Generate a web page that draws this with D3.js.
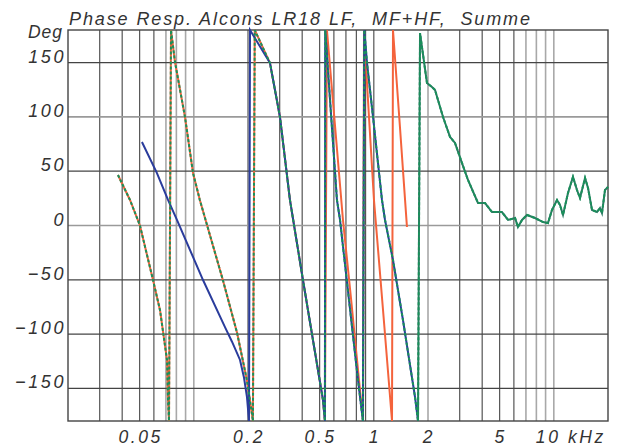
<!DOCTYPE html>
<html>
<head>
<meta charset="utf-8">
<style>
  body { margin: 0; background: #fff; }
  svg text { font-family: "Liberation Sans", Arial, sans-serif; font-style: italic; fill: #333; white-space: pre; }
</style>
</head>
<body>
<svg id="chart" width="621" height="446"></svg>
<script src="https://d3js.org/d3.v7.min.js"></script>
<script>
// axis ticks
const yTicks = [-150, -100, -50, 0, 50, 100, 150];
const yTicksLight = [0, 100];
const xTickValues = [0.05, 0.2, 0.5, 1, 2, 5, 10];
const xTickText = ["0.05", "0.2", "0.5", "1", "2", "5", "10 kHz"];
const gridDark = [0.03, 0.04, 0.05, 0.06, 0.2, 0.3, 0.4, 0.5, 0.6, 0.7, 0.8, 0.9, 1, 3, 4, 5, 6];
const gridLight = [0.07, 0.08, 0.09, 0.1, 2, 7, 8, 9, 10];

// LF (blue), [kHz, deg]
const lfPoints = [
  [0.0515, 76.9], [0.0624, 48.3], [0.0719, 23.5], [0.0807, 5], [0.1125, -50.2],
  [0.149, -93.5], [0.163, -107], [0.1806, -123.8], [0.19, -140], [0.1974, -158],
  [0.2026, -180], [0.2052, 180], [0.265, 149.6], [0.301, 99.9], [0.342, 23.5],
  [0.404, -50.2], [0.522, -160.7], [0.535, -180], [0.537, 180], [0.624, 23.5],
  [0.649, 5.1], [0.728, -68.6], [0.817, -142.3], [0.87, -180], [0.885, 180],
  [0.917, 149.6], [0.99, 99.9], [1.11, 23.5], [1.154, 5.1], [1.278, -31.8],
  [1.452, -87], [1.694, -157.9], [1.76, -180]
];

// MF+HF (orange)
const mfhfPoints = [
  [0.0379, 46.5], [0.0442, 23.5], [0.0502, 0], [0.0593, -50], [0.0649, -78],
  [0.071, -124], [0.0719, -161], [0.0728, -180], [0.0747, 180], [0.0786, 150.5],
  [0.0893, 100], [0.099, 48.3], [0.108, 23.5], [0.145, -50.2], [0.174, -99],
  [0.197, -142], [0.205, -160.7], [0.213, -180], [0.218, 180], [0.265, 149.6],
  [0.301, 99.9], [0.342, 23.5], [0.404, -50.2], [0.522, -160.7], [0.535, -180],
  [0.549, 180], [0.674, 5.1], [0.75, -70], [0.871, -180], [0.882, 180],
  [0.928, 115.5], [1.002, 23.5], [1.125, -77.8], [1.262, -180], [1.278, 180],
  [1.398, 90], [1.528, -1.4]
];

// Summe (green)
const sumPoints = [
  [0.0379, 46.5], [0.0442, 23.5], [0.0502, 0], [0.0593, -50], [0.0649, -78],
  [0.071, -124], [0.0719, -161], [0.0728, -180], [0.0747, 180], [0.0786, 150.5],
  [0.0893, 100], [0.099, 48.3], [0.108, 23.5], [0.145, -50.2], [0.174, -99],
  [0.197, -142], [0.205, -160.7], [0.213, -180], [0.218, 180], [0.265, 149.6],
  [0.301, 99.9], [0.342, 23.5], [0.404, -50.2], [0.522, -160.7], [0.535, -180],
  [0.537, 180], [0.624, 23.5], [0.649, 5.1], [0.728, -68.6], [0.817, -142.3],
  [0.87, -180], [0.885, 180], [0.917, 149.6], [0.99, 99.9], [1.11, 23.5],
  [1.154, 5.1], [1.278, -31.8], [1.452, -87], [1.694, -157.9], [1.76, -180],
  [1.806, 177.2], [1.974, 131.2], [2.104, 127.5], [2.188, 124.8], [2.424, 99.9],
  [2.652, 81.5], [2.825, 76], [3.09, 57.5], [3.336, 41.9], [3.79, 20.7],
  [4.148, 20.7], [4.535, 12.4], [5.15, 12.4], [5.57, 5.1], [6.09, 6.9],
  [6.32, -1.4], [6.66, 5.1], [7.10, 9.7], [7.86, 6.9], [8.71, 3.2],
  [9.28, 2.3], [9.77, 14.3], [10.42, 23.5], [10.82, 18.9], [11.25, 9.7],
  [11.99, 29.9], [12.78, 44.7], [13.45, 32.7], [13.98, 25.3], [14.91, 43.7],
  [15.49, 34.5], [16.30, 14.3], [17.37, 12.4], [18.05, 16.1], [18.52, 11.5],
  [19.25, 32.7], [20, 35.5]
];

const svg = d3.select("#chart");
const margin = { left: 68, right: 608, top: 30, bottom: 421 };

const x = d3.scaleLog().domain([0.02, 20]).range([margin.left, margin.right]);
const y = d3.scaleLinear().domain([-180, 180]).range([margin.bottom, margin.top]);

// grid
svg.append("g").selectAll("line").data(gridLight).join("line")
  .attr("x1", d => x(d)).attr("x2", d => x(d))
  .attr("y1", margin.top).attr("y2", margin.bottom)
  .attr("stroke", "#a8a8a8").attr("stroke-width", 1.6);
svg.append("g").selectAll("line").data(gridDark).join("line")
  .attr("x1", d => x(d)).attr("x2", d => x(d))
  .attr("y1", margin.top).attr("y2", margin.bottom)
  .attr("stroke", "#555").attr("stroke-width", 1.2);
svg.append("g").selectAll("line").data(yTicks).join("line")
  .attr("x1", margin.left).attr("x2", margin.right)
  .attr("y1", d => y(d)).attr("y2", d => y(d))
  .attr("stroke", d => yTicksLight.includes(d) ? "#9a9a9a" : "#444")
  .attr("stroke-width", d => yTicksLight.includes(d) ? 1.6 : 1.2);

svg.append("rect")
  .attr("x", margin.left).attr("y", margin.top)
  .attr("width", margin.right - margin.left).attr("height", margin.bottom - margin.top)
  .attr("fill", "none").attr("stroke", "#444").attr("stroke-width", 1.4);

// curves
const line = d3.line().x(d => x(d[0])).y(d => y(d[1]));
const lastOther = d3.max(lfPoints.concat(mfhfPoints), d => d[0]);

svg.append("path").datum(mfhfPoints).attr("d", line)
  .attr("fill", "none").attr("stroke", "#f4633c").attr("stroke-width", 2);
svg.append("path").datum(lfPoints).attr("d", line)
  .attr("fill", "none").attr("stroke", "#2a3c9c").attr("stroke-width", 2);
svg.append("path").datum(sumPoints.filter(d => d[0] >= lastOther)).attr("d", line)
  .attr("fill", "none").attr("stroke", "#2a7a62").attr("stroke-width", 2);
svg.append("path").datum(sumPoints).attr("d", line)
  .attr("fill", "none").attr("stroke", "#19915a").attr("stroke-width", 2)
  .attr("stroke-dasharray", "3,2");

// labels
svg.append("text").attr("x", 69).attr("y", 25)
  .attr("font-size", 18).attr("textLength", 461).attr("lengthAdjust", "spacing")
  .text("Phase Resp. Alcons LR18 LF,  MF+HF,  Summe");

svg.append("text").attr("x", 63).attr("y", 38)
  .attr("font-size", 17.5).attr("text-anchor", "end").attr("letter-spacing", 1).text("Deg");

svg.append("g").selectAll("text").data(yTicks).join("text")
  .attr("x", 66).attr("y", d => y(d))
  .attr("font-size", 18).attr("text-anchor", "end")
  .attr("letter-spacing", 2.6)
  .text(d => d < 0 ? "\u2212" + Math.abs(d) : d);

svg.append("g").selectAll("text").data(xTickValues).join("text")
  .attr("x", (d, i) => i === xTickValues.length - 1 ? x(d) - 18 : x(d) + 1)
  .attr("y", 443)
  .attr("font-size", 17.5)
  .attr("text-anchor", (d, i) => i === xTickValues.length - 1 ? "start" : "middle")
  .attr("letter-spacing", 2.6)
  .text((d, i) => xTickText[i]);
</script>
</body>
</html>
